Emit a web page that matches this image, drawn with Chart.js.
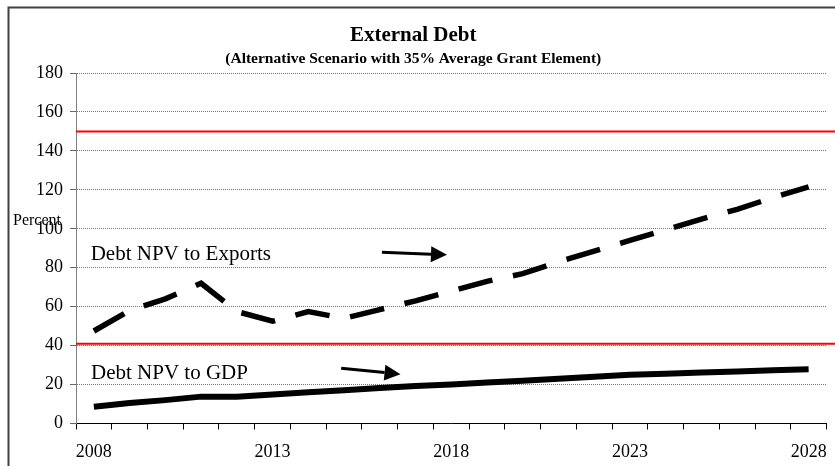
<!DOCTYPE html>
<html>
<head>
<meta charset="utf-8">
<script src="https://cdn.jsdelivr.net/npm/chart.js@4/dist/chart.umd.min.js"></script>
<style>
  html, body { margin: 0; padding: 0; background: #fff; }
  #wrap { width: 835px; height: 466px; }
</style>
</head>
<body>
<div id="wrap"><canvas id="debtChart" width="835" height="466"></canvas></div>
<script>
// years on the x axis
const years = ['2008', '2009', '2010', '2011', '2012', '2013', '2014', '2015', '2016', '2017', '2018',
  '2019', '2020', '2021', '2022', '2023', '2024', '2025', '2026', '2027', '2028'];

// Debt NPV to Exports (percent)
const npvExports = [47.5, 58, 64, 72, 57.5, 52.5, 57.5, 54, 58.5, 63, 68,
  73, 77, 83, 88.5, 94, 99.5, 105, 110, 116, 121.5];

// Debt NPV to GDP (percent)
const npvGdp = [8.6, 10.5, 12, 13.8, 13.8, 14.9, 16, 17.1, 18.2, 19.3, 20,
  21, 22, 23, 24, 25, 25.6, 26.2, 26.7, 27.3, 27.9];

// red threshold lines
const thresholds = [150, 41];

const yTicks = [0, 20, 40, 60, 80, 100, 120, 140, 160, 180];

const serif = "'Liberation Serif', 'Times New Roman', serif";

// labels and arrows, placed in data units (x = year index, y = percent)
const notes = [
  { text: 'Debt NPV to Exports', x: -0.09, y: 84 },
  { text: 'Debt NPV to GDP', x: -0.08, y: 22.7 }
];
const arrows = [
  { x1: 8.06, y1: 88.0, x2: 9.88, y2: 86.6 },
  { x1: 6.92, y1: 28.4, x2: 8.58, y2: 25.3 }
];

const decorPlugin = {
  id: 'decor',
  beforeDraw(chart) {
    const ctx = chart.ctx;
    ctx.save();
    ctx.strokeStyle = '#404040';
    ctx.lineWidth = 2;
    ctx.strokeRect(8.5, 7.5, chart.width + 20, chart.height + 20);
    ctx.restore();
  },
  beforeDatasetsDraw(chart) {
    const ctx = chart.ctx;
    const y = chart.scales.y;
    const area = chart.chartArea;
    ctx.save();
    ctx.strokeStyle = '#ff0000';
    ctx.lineWidth = 2;
    thresholds.forEach(v => {
      const py = y.getPixelForValue(v);
      ctx.beginPath();
      ctx.moveTo(area.left, py);
      ctx.lineTo(chart.width, py);
      ctx.stroke();
    });
    ctx.restore();
  },
  afterDatasetsDraw(chart) {
    const ctx = chart.ctx;
    const xs = chart.scales.x;
    const ys = chart.scales.y;
    ctx.save();
    ctx.fillStyle = '#000';
    ctx.font = '21px ' + serif;
    ctx.textBaseline = 'alphabetic';
    ctx.textAlign = 'left';
    notes.forEach(n => {
      ctx.fillText(n.text, xs.getPixelForValue(n.x), ys.getPixelForValue(n.y));
    });

    // "Percent" axis caption
    ctx.font = '16px ' + serif;
    ctx.textBaseline = 'middle';
    ctx.fillText('Percent', 13, ys.getPixelForValue(104));

    arrows.forEach(a => {
      const x1 = xs.getPixelForValue(a.x1), y1 = ys.getPixelForValue(a.y1);
      const x2 = xs.getPixelForValue(a.x2), y2 = ys.getPixelForValue(a.y2);
      const ang = Math.atan2(y2 - y1, x2 - x1);
      const head = 16, half = 8;
      const bx = x2 - head * Math.cos(ang), by = y2 - head * Math.sin(ang);
      ctx.strokeStyle = '#000';
      ctx.lineWidth = 3;
      ctx.beginPath();
      ctx.moveTo(x1, y1);
      ctx.lineTo(bx, by);
      ctx.stroke();
      ctx.beginPath();
      ctx.moveTo(x2, y2);
      ctx.lineTo(bx + half * Math.sin(ang), by - half * Math.cos(ang));
      ctx.lineTo(bx - half * Math.sin(ang), by + half * Math.cos(ang));
      ctx.closePath();
      ctx.fill();
    });
    ctx.restore();
  }
};

const ctx = document.getElementById('debtChart').getContext('2d');

new Chart(ctx, {
  type: 'line',
  data: {
    labels: years,
    datasets: [
      {
        label: 'Debt NPV to Exports',
        data: npvExports,
        borderColor: '#000',
        borderWidth: 5.5,
        borderDash: [35, 21],
        borderCapStyle: 'butt',
        pointRadius: 0,
        tension: 0,
        fill: false
      },
      {
        label: 'Debt NPV to GDP',
        data: npvGdp,
        borderColor: '#000',
        borderWidth: 6,
        borderCapStyle: 'butt',
        pointRadius: 0,
        tension: 0,
        fill: false
      }
    ]
  },
  options: {
    responsive: false,
    animation: false,
    layout: { padding: { left: 0, right: 8.5, top: 0, bottom: 0 } },
    plugins: {
      legend: { display: false },
      tooltip: { enabled: false },
      title: {
        display: true,
        text: 'External Debt',
        color: '#000',
        font: { family: serif, size: 21, weight: 'bold' },
        padding: { top: 23, bottom: 0 }
      },
      subtitle: {
        display: true,
        text: '(Alternative Scenario with 35% Average Grant Element)',
        color: '#000',
        font: { family: serif, size: 15.5, weight: 'bold' },
        padding: { top: 1.5, bottom: 4.7 }
      }
    },
    scales: {
      x: {
        offset: true,
        afterFit(scale) {
          scale.height = 42.5;
          scale.paddingLeft = 0;
          scale.paddingRight = 0;
        },
        grid: {
          offset: true,
          drawOnChartArea: false,
          drawTicks: true,
          tickLength: 6,
          tickColor: '#000'
        },
        border: { color: '#000', width: 1 },
        ticks: {
          autoSkip: false,
          maxRotation: 0,
          padding: 12,
          color: '#000',
          font: { family: serif, size: 18 },
          callback(val, i) { return i % 5 === 0 ? years[i] : ''; }
        }
      },
      y: {
        min: 0,
        max: 180,
        afterFit(scale) { scale.width = 76; },
        afterBuildTicks(scale) { scale.ticks = yTicks.map(v => ({ value: v })); },
        grid: {
          color: ctx => (ctx.tick && ctx.tick.value === 0 ? 'rgba(0,0,0,0)' : '#777'),
          lineWidth: 1,
          drawTicks: true,
          tickLength: 6,
          tickColor: '#666'
        },
        border: { color: '#808080', width: 1, dash: [1, 1] },
        ticks: {
          padding: 7,
          color: '#000',
          font: { family: serif, size: 18 }
        }
      }
    }
  },
  plugins: [decorPlugin]
});
</script>
</body>
</html>
